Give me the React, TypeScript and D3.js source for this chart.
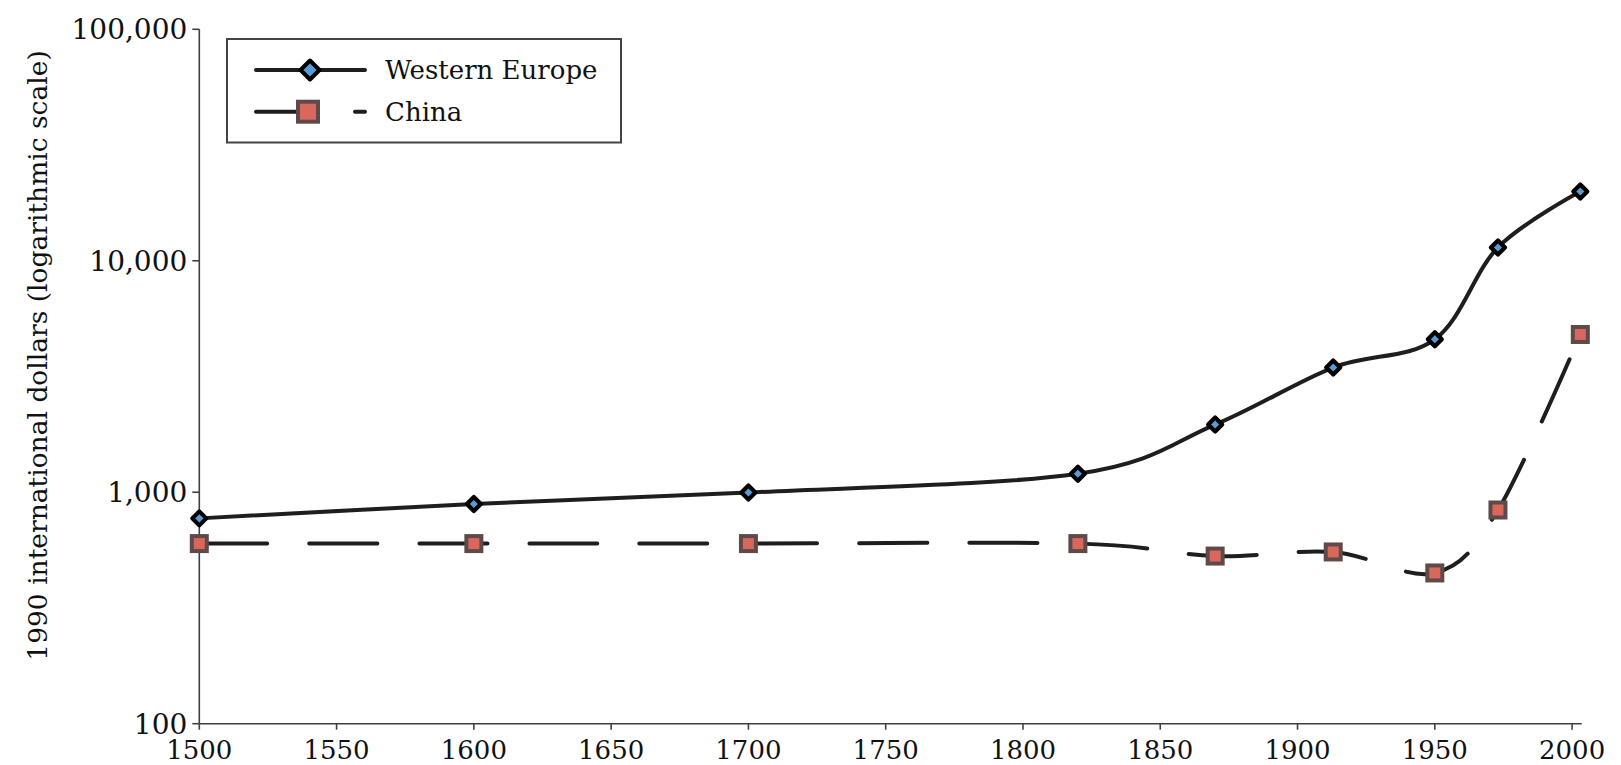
import React from "react";
import * as d3 from "d3";

const years = [1500, 1600, 1700, 1820, 1870, 1913, 1950, 1973, 2003];
const westernEurope = [771, 889, 997, 1202, 1960, 3457, 4578, 11417, 19912];
const china = [600, 600, 600, 600, 530, 552, 448, 838, 4803];
const xTicks = [1500, 1550, 1600, 1650, 1700, 1750, 1800, 1850, 1900, 1950, 2000];
const yTicks = [100, 1000, 10000, 100000];
const seriesNames = ["Western Europe", "China"];
const yLabel = "1990 international dollars (logarithmic scale)";

const W = 1621;
const H = 765;
const FONT = "'DejaVu Serif', 'Liberation Serif', serif";
const BLUE = "#5b9bd5";
const RED = "#d9675c";
const SQ_STROKE = "#5e4b49";
const LINE = "#1e1e1e";
const AXIS = "#404040";

export default function App() {
  const x = d3.scaleLinear().domain([1500, 2003.5]).range([199.3, 1581.7]);
  const y = d3.scaleLog().domain([100, 100000]).range([723.7, 29.3]);
  const line = d3
    .line<number>()
    .x((_, i) => x(years[i]))
    .y((d) => y(d))
    .curve(d3.curveCatmullRom.alpha(0));
  const fmt = d3.format(",");
  const diamond = (cx: number, cy: number, r: number) =>
    `M${cx},${cy - r}L${cx + r},${cy}L${cx},${cy + r}L${cx - r},${cy}Z`;

  const [x0, x1] = x.range();
  const [yb, yt] = y.range();

  return (
    <svg
      width={W}
      height={H}
      style={{ position: "absolute", left: 0, top: 0, display: "block", background: "#fff" }}
      fontFamily={FONT}
    >
      {/* axes */}
      <line x1={x0} y1={yt} x2={x0} y2={yb} stroke={AXIS} strokeWidth={1.6} />
      <line x1={x0} y1={yb} x2={x1} y2={yb} stroke={AXIS} strokeWidth={1.6} />
      {yTicks.map((t) => (
        <g key={t}>
          <line x1={x0 - 7} x2={x0} y1={y(t)} y2={y(t)} stroke={AXIS} strokeWidth={1.6} />
          <text x={x0 - 12} y={y(t)} dy="0.36em" textAnchor="end" fontSize={28} fill="#111">
            {fmt(t)}
          </text>
        </g>
      ))}
      {xTicks.map((t) => (
        <g key={t}>
          <line x1={x(t)} x2={x(t)} y1={yb} y2={yb + 6} stroke={AXIS} strokeWidth={1.6} />
          <text x={x(t)} y={yb + 35} textAnchor="middle" fontSize={26} fill="#111">
            {t}
          </text>
        </g>
      ))}
      <text
        transform={`translate(37,${(yt + yb) / 2 - 21}) rotate(-90)`}
        textAnchor="middle"
        dy="0.36em"
        fontSize={26.5}
        fill="#111"
      >
        {yLabel}
      </text>

      {/* lines */}
      <path d={line(westernEurope) || ""} fill="none" stroke={LINE} strokeWidth={4} strokeLinecap="round" />
      <path
        d={line(china) || ""}
        fill="none"
        stroke={LINE}
        strokeWidth={4}
        strokeLinecap="round"
        strokeDasharray="68 42"
      />
      {/* markers */}
      {china.map((v, i) => (
        <rect
          key={"c" + i}
          x={x(years[i]) - 7.5}
          y={y(v) - 7.5}
          width={15}
          height={15}
          fill={RED}
          stroke={SQ_STROKE}
          strokeWidth={4}
        />
      ))}
      {westernEurope.map((v, i) => (
        <path
          key={"w" + i}
          d={diamond(x(years[i]), y(v), 7)}
          fill={BLUE}
          stroke="#000"
          strokeWidth={4.2}
          strokeLinejoin="round"
        />
      ))}

      {/* legend */}
      <rect x={227} y={39} width={394} height={103.5} fill="#fff" stroke="#444" strokeWidth={2} />
      <line x1={256} x2={365} y1={70} y2={70} stroke={LINE} strokeWidth={4} strokeLinecap="round" />
      <path d={diamond(310, 70, 9.5)} fill={BLUE} stroke="#000" strokeWidth={4} strokeLinejoin="round" />
      <text x={385} y={70} dy="0.36em" fontSize={26} fill="#111">
        {seriesNames[0]}
      </text>
      <line
        x1={256}
        x2={365}
        y1={111.7}
        y2={111.7}
        stroke={LINE}
        strokeWidth={4}
        strokeLinecap="round"
        strokeDasharray="62 37"
      />
      <rect x={298} y={101.7} width={20} height={20} fill={RED} stroke={SQ_STROKE} strokeWidth={4} />
      <text x={385} y={111.7} dy="0.36em" fontSize={26} fill="#111">
        {seriesNames[1]}
      </text>
    </svg>
  );
}
